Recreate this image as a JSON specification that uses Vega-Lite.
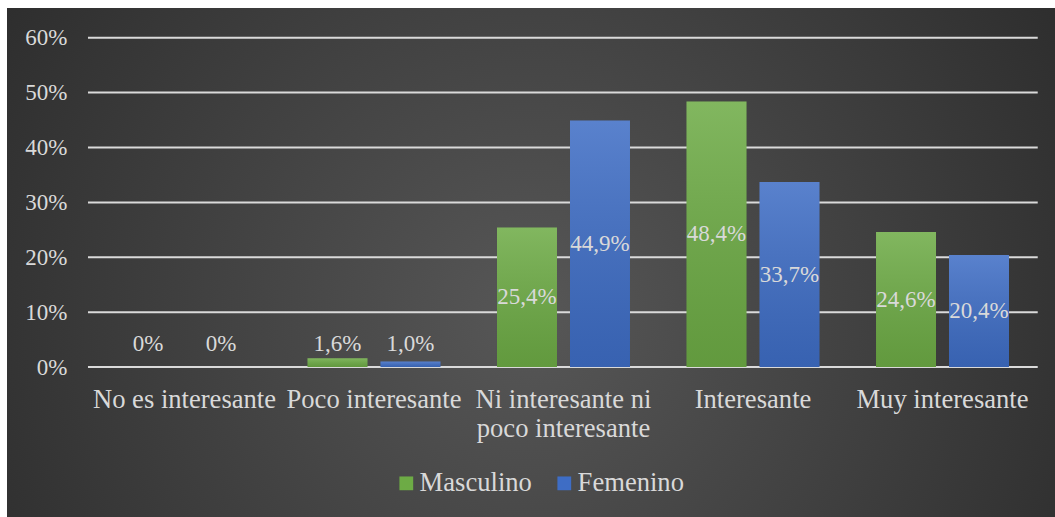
{
  "$schema": "https://vega.github.io/schema/vega-lite/v6.json",
  "width": 1048,
  "height": 509,
  "autosize": {"type": "none"},
  "padding": {"left": 7, "top": 8, "right": 0, "bottom": 0},
  "background": "#ffffff",
  "config": {
    "view": {
      "stroke": null,
      "fill": {
        "gradient": "radial",
        "x1": 0.5, "y1": 0.55, "r1": 0,
        "x2": 0.5, "y2": 0.55, "r2": 0.75,
        "stops": [
          {"offset": 0, "color": "#575757"},
          {"offset": 1, "color": "#222222"}
        ]
      }
    },
    "locale": {
      "number": {"decimal": ",", "thousands": ".", "grouping": [3], "currency": ["", " €"]}
    },
    "text": {"font": "Liberation Serif", "fontSize": 23, "fill": "#d9d9d9"}
  },
  "data": {
    "values": [
      {"respuesta": "No es interesante", "sexo": "Masculino", "valor": 0},
      {"respuesta": "No es interesante", "sexo": "Femenino", "valor": 0},
      {"respuesta": "Poco interesante", "sexo": "Masculino", "valor": 0.016},
      {"respuesta": "Poco interesante", "sexo": "Femenino", "valor": 0.010},
      {"respuesta": "Ni interesante ni poco interesante", "sexo": "Masculino", "valor": 0.254},
      {"respuesta": "Ni interesante ni poco interesante", "sexo": "Femenino", "valor": 0.449},
      {"respuesta": "Interesante", "sexo": "Masculino", "valor": 0.484},
      {"respuesta": "Interesante", "sexo": "Femenino", "valor": 0.337},
      {"respuesta": "Muy interesante", "sexo": "Masculino", "valor": 0.246},
      {"respuesta": "Muy interesante", "sexo": "Femenino", "valor": 0.204}
    ]
  },
  "resolve": {"scale": {"y": "independent"}},
  "layer": [
    {
      "data": {
        "values": [
          {"nivel": 0, "desde": "No es interesante", "hasta": "Muy interesante"},
          {"nivel": 0.1, "desde": "No es interesante", "hasta": "Muy interesante"},
          {"nivel": 0.2, "desde": "No es interesante", "hasta": "Muy interesante"},
          {"nivel": 0.3, "desde": "No es interesante", "hasta": "Muy interesante"},
          {"nivel": 0.4, "desde": "No es interesante", "hasta": "Muy interesante"},
          {"nivel": 0.5, "desde": "No es interesante", "hasta": "Muy interesante"},
          {"nivel": 0.6, "desde": "No es interesante", "hasta": "Muy interesante"}
        ]
      },
      "mark": {"type": "rule", "stroke": "#dadada", "strokeWidth": 2},
      "encoding": {
        "y": {"field": "nivel", "type": "quantitative", "axis": null,
              "scale": {"domain": [-0.2733, 0.6542], "nice": false, "zero": false}},
        "x": {"field": "desde", "type": "nominal", "bandPosition": -0.2256},
        "x2": {"field": "hasta", "bandPosition": 1.216}
      }
    },
    {
      "mark": {"type": "bar"},
      "encoding": {
        "x": {
          "field": "respuesta", "type": "nominal",
          "scale": {
            "domain": ["No es interesante", "Poco interesante", "Ni interesante ni poco interesante", "Interesante", "Muy interesante"],
            "paddingInner": 0.2982, "paddingOuter": 0.4142, "align": 0.707
          },
          "axis": {
            "orient": "bottom", "offset": -150, "title": null, "bandPosition": 0.5,
            "domain": false, "ticks": false, "grid": false,
            "labelAngle": 0, "labelAlign": "center", "labelFont": "Liberation Serif", "labelFontSize": 26.6,
            "labelColor": "#d9d9d9", "labelBaseline": "alphabetic", "labelPadding": 40,
            "labelLineHeight": 29, "labelLimit": 400, "labelOverlap": false, "labelBound": false,
            "labelExpr": "datum.value == 'Ni interesante ni poco interesante' ? ['Ni interesante ni', 'poco interesante'] : datum.label"
          }
        },
        "xOffset": {
          "field": "sexo", "type": "nominal",
          "scale": {"domain": ["Masculino", "Femenino"], "paddingInner": 0.178, "paddingOuter": 0}
        },
        "y": {
          "field": "valor", "type": "quantitative",
          "scale": {"domain": [-0.2733, 0.6542], "nice": false, "zero": false},
          "axis": {
            "orient": "left", "offset": -81, "title": null,
            "values": [0, 0.1, 0.2, 0.3, 0.4, 0.5, 0.6], "format": ".0%",
            "domain": false, "ticks": false, "grid": false,
            "labelFont": "Liberation Serif", "labelFontSize": 23, "labelColor": "#d9d9d9",
            "labelPadding": 21, "labelFlush": false, "labelBound": false
          }
        },
        "y2": {"datum": 0},
        "color": {
          "field": "sexo", "type": "nominal",
          "scale": {"domain": ["Masculino", "Femenino"], "range": ["#6dab45", "#3e6dc5"]},
          "legend": {
            "title": null, "orient": "none", "direction": "horizontal",
            "legendX": 386, "legendY": 462, "padding": 0,
            "symbolType": "square", "symbolSize": 190, "symbolStrokeWidth": 0,
            "labelFont": "Liberation Serif", "labelFontSize": 26.6, "labelColor": "#d9d9d9",
            "labelOffset": 0, "columnPadding": 19
          }
        }
      }
    },
    {
      "mark": {
        "type": "bar",
        "fill": {
          "gradient": "linear", "x1": 0, "y1": 0, "x2": 0, "y2": 1,
          "stops": [
            {"offset": 0, "color": "rgba(255,255,255,0.14)"},
            {"offset": 1, "color": "rgba(0,0,0,0.1)"}
          ]
        }
      },
      "encoding": {
        "x": {"field": "respuesta", "type": "nominal"},
        "xOffset": {"field": "sexo", "type": "nominal"},
        "y": {"field": "valor", "type": "quantitative", "axis": null,
              "scale": {"domain": [-0.2733, 0.6542], "nice": false, "zero": false}},
        "y2": {"datum": 0}
      }
    },
    {
      "transform": [{"filter": "datum.valor >= 0.05"}],
      "mark": {"type": "text", "baseline": "middle", "align": "center"},
      "encoding": {
        "x": {"field": "respuesta", "type": "nominal"},
        "xOffset": {"field": "sexo", "type": "nominal"},
        "y": {"field": "valor", "type": "quantitative", "axis": null,
              "scale": {"domain": [-0.5466, 1.3084], "nice": false, "zero": false}},
        "text": {"field": "valor", "type": "quantitative", "format": ".1%"}
      }
    },
    {
      "transform": [{"filter": "datum.valor < 0.05"}],
      "mark": {"type": "text", "baseline": "middle", "align": "center", "dy": -23},
      "encoding": {
        "x": {"field": "respuesta", "type": "nominal"},
        "xOffset": {"field": "sexo", "type": "nominal"},
        "y": {"datum": 0, "type": "quantitative", "axis": null,
              "scale": {"domain": [-0.2733, 0.6542], "nice": false, "zero": false}},
        "text": {
          "condition": {"test": "datum.valor == 0", "value": "0%"},
          "field": "valor", "type": "quantitative", "format": ".1%"
        }
      }
    }
  ]
}
